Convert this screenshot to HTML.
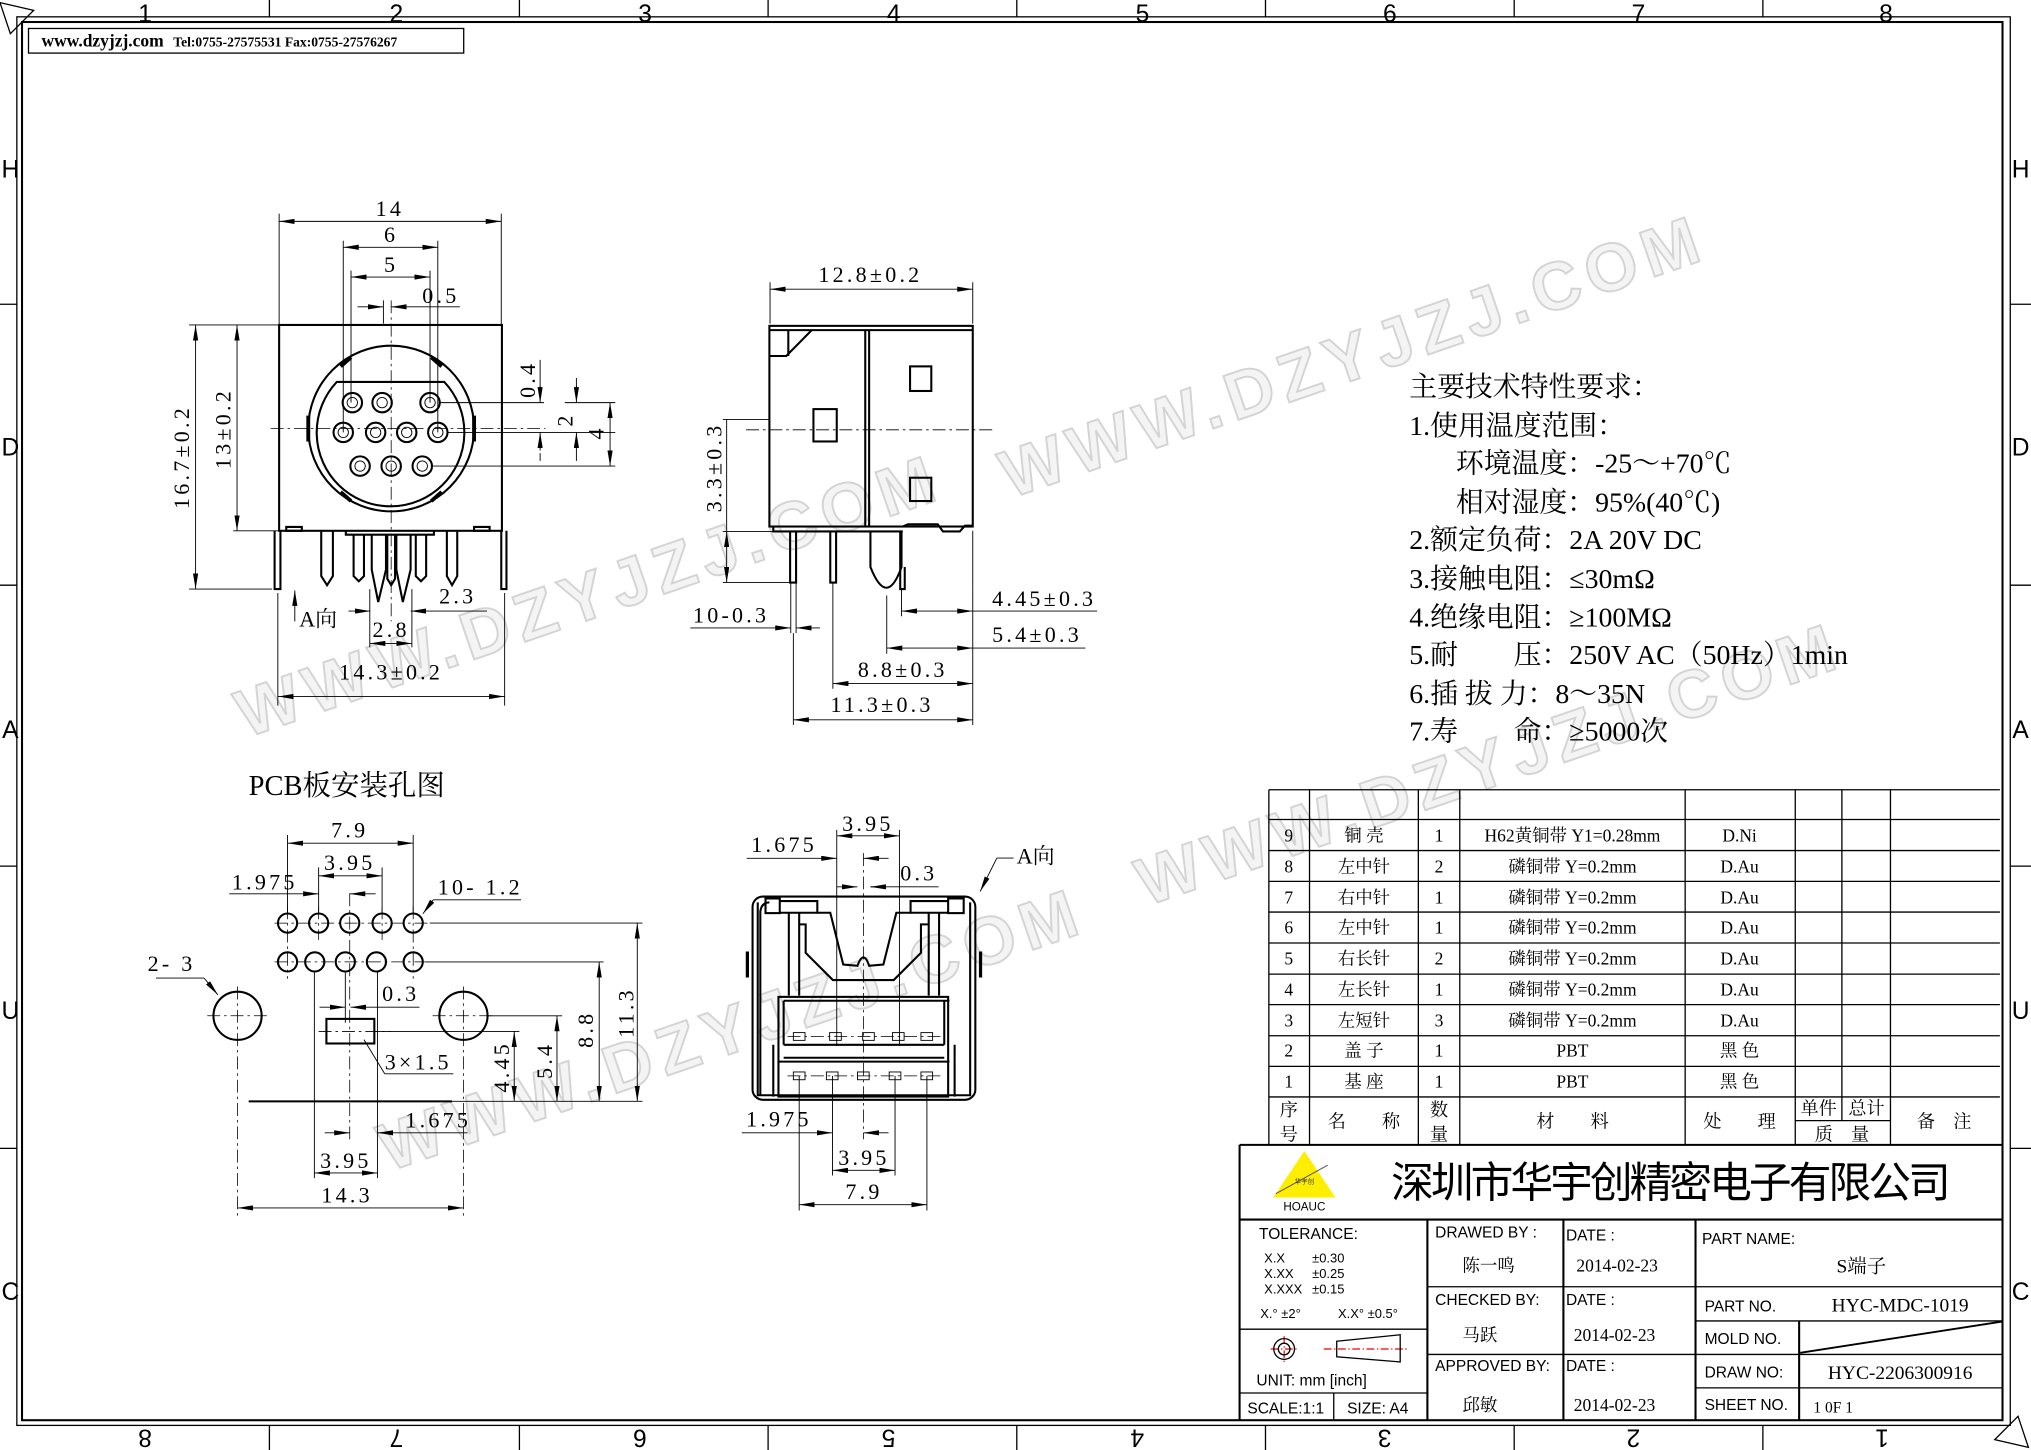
<!DOCTYPE html>
<html><head><meta charset="utf-8"><style>
html,body{margin:0;padding:0;background:#fff}
svg{display:block}
.l{stroke:#000;fill:none;stroke-width:1}
.k{stroke:#000;fill:none;stroke-width:1.6}
.th{stroke:#000;fill:none;stroke-width:0.7}
.c{stroke:#000;fill:none;stroke-width:0.6;stroke-dasharray:10 3 2 3}
.t{font-family:"Liberation Serif","Noto Serif CJK SC",serif;font-size:17px;letter-spacing:2.5px;fill:#000}
.s{font-family:"Liberation Serif","Noto Serif CJK SC",serif;font-size:13.5px;fill:#000}
.a{font-family:"Liberation Sans","Noto Sans CJK SC",sans-serif;fill:#000}
.w{font-family:"Liberation Sans",sans-serif;font-weight:bold;font-size:52px;letter-spacing:6px;fill:#f4f4f4;stroke:#d4d4d4;stroke-width:1.5}
</style></head><body>
<svg width="2031" height="1450" viewBox="0 0 1568 1120" preserveAspectRatio="none" xmlns="http://www.w3.org/2000/svg">
<defs>
<marker id="m" viewBox="0 0 12 4" refX="12" refY="2" markerWidth="12" markerHeight="4" markerUnits="userSpaceOnUse" orient="auto-start-reverse"><path d="M0,0L12,2L0,4z" fill="#000"/></marker>
</defs>
<rect width="1568" height="1120" fill="#fff"/>

<g>
<text class="w" transform="translate(190,570) rotate(-19)">WWW.DZYJZJ.COM</text>
<text class="w" transform="translate(780,385) rotate(-19)">WWW.DZYJZJ.COM</text>
<text class="w" transform="translate(885,700) rotate(-19)">WWW.DZYJZJ.COM</text>
<text class="w" transform="translate(300,905) rotate(-19)">WWW.DZYJZJ.COM</text>
</g>

<rect x="13" y="13" width="1539" height="1088" class="l"/>
<rect x="17" y="17" width="1529" height="1080" class="k"/>
<path d="M0,2L26,8L8,26Z" class="l"/>
<path d="M1566,1118L1540,1112L1558,1094Z" class="l"/>
<g class="l">
<path d="M208,0V13M401,0V13M593,0V13M785,0V13M977,0V13M1169,0V13M1361,0V13"/>
<path d="M208,1101V1120M401,1101V1120M593,1101V1120M785,1101V1120M977,1101V1120M1169,1101V1120M1361,1101V1120"/>
<path d="M0,235H13M0,452H13M0,669H13M0,887H13"/>
<path d="M1552,235H1568M1552,452H1568M1552,669H1568M1552,887H1568"/>
</g>
<g class="a" font-size="19" text-anchor="middle">
<text x="112" y="17">1</text><text x="306" y="17">2</text><text x="498" y="17">3</text><text x="690" y="17">4</text><text x="882" y="17">5</text><text x="1073" y="17">6</text><text x="1265" y="17">7</text><text x="1456" y="17">8</text>
<text transform="translate(112,1104) rotate(180)">8</text><text transform="translate(306,1104) rotate(180)">7</text><text transform="translate(494,1104) rotate(180)">6</text><text transform="translate(686,1104) rotate(180)">5</text><text transform="translate(878,1104) rotate(180)">4</text><text transform="translate(1069,1104) rotate(180)">3</text><text transform="translate(1261,1104) rotate(180)">2</text><text transform="translate(1453,1104) rotate(180)">1</text>
<text x="8" y="137">H</text><text x="8" y="352">D</text><text x="8" y="570">A</text><text x="8" y="787">U</text><text x="8" y="1004">C</text>
<text x="1560" y="137">H</text><text x="1560" y="352">D</text><text x="1560" y="570">A</text><text x="1560" y="787">U</text><text x="1560" y="1004">C</text>
</g>
<rect x="22" y="22" width="336" height="19" class="l"/>
<text x="32" y="36" font-family="Liberation Serif,serif" font-weight="bold" font-size="13.5">www.dzyjzj.com <tspan font-size="10.5" dx="4">Tel:0755-27575531  Fax:0755-27576267</tspan></text>

<!-- FRONT VIEW -->
<rect x="215.5" y="251" width="172" height="159" class="k"/>
<circle cx="302" cy="331" r="64" class="k"/>
<path d="M260,295H343A57,57 0 1 1 260,295Z" class="k"/>
<path d="M238,321v20M366,321v20" stroke="#000" stroke-width="3"/>
<path d="M263,283l8,-7M341,283l-8,-7M263,380l8,7M341,380l-8,7" stroke="#000" stroke-width="3"/>
<g class="k">
<circle cx="272" cy="311" r="7.5"/><circle cx="295" cy="311" r="7.5"/><circle cx="332" cy="311" r="7.5"/>
<circle cx="265" cy="334" r="7.5"/><circle cx="290" cy="334" r="7.5"/><circle cx="314" cy="334" r="7.5"/><circle cx="338" cy="334" r="7.5"/>
<circle cx="278" cy="360" r="7.5"/><circle cx="302" cy="360" r="7.5"/><circle cx="326" cy="360" r="7.5"/>
</g>
<g class="th">
<circle cx="272" cy="311" r="4"/><circle cx="295" cy="311" r="4"/><circle cx="332" cy="311" r="4"/>
<circle cx="265" cy="334" r="4"/><circle cx="290" cy="334" r="4"/><circle cx="314" cy="334" r="4"/><circle cx="338" cy="334" r="4"/>
<circle cx="278" cy="360" r="4"/><circle cx="302" cy="360" r="4"/><circle cx="326" cy="360" r="4"/>
</g>
<path d="M209,331H421M302,232V480" class="c"/>
<g class="k">
<path d="M212,410V455H216.5V410"/><path d="M387,410V455H391V410"/>
<path d="M221,407h12v3h-12zM366,407h12v3h-12z"/>
<path d="M248,410V445L252.5,452L257,445V410"/><path d="M345,410V445L349,452L353,445V410"/>
<path d="M267,410V413H335V410"/>
<path d="M273,413V445L277,449L281,445V413"/>
<path d="M287,413V440L292,465L298,440V413"/>
<path d="M299,413V447L302,452L305,447V413"/>
<path d="M306,413V440L311,465L317,440V413"/>
<path d="M321,413V445L325,449L329,445V413"/>
</g>
<g class="th">
<path d="M215.5,165V251M387,165V251"/>
<line x1="215.5" y1="171" x2="387" y2="171" marker-start="url(#m)" marker-end="url(#m)"/>
<path d="M265,186V334M338,186V334M271,209V311M332,209V311"/>
<line x1="265" y1="191" x2="338" y2="191" marker-start="url(#m)" marker-end="url(#m)"/>
<line x1="271" y1="214" x2="332" y2="214" marker-start="url(#m)" marker-end="url(#m)"/>
<path d="M296,232V250"/><line x1="276" y1="237" x2="296" y2="237" marker-end="url(#m)"/><line x1="355" y1="237" x2="302" y2="237" marker-end="url(#m)"/>
<path d="M340,311H420M346,334H475M334,360H475"/>
<path d="M417,278V302M417,350V356"/><line x1="417" y1="298" x2="417" y2="311" marker-end="url(#m)"/><line x1="417" y1="348" x2="417" y2="334" marker-end="url(#m)"/>
<path d="M445,292V300M445,348V356"/><line x1="445" y1="298" x2="445" y2="311" marker-end="url(#m)"/><line x1="445" y1="348" x2="445" y2="334" marker-end="url(#m)"/>
<path d="M436,311H475"/>
<line x1="471" y1="311" x2="471" y2="360" marker-start="url(#m)" marker-end="url(#m)"/>
<path d="M146,251H215M180,410H215M146,455H210"/>
<line x1="151" y1="251" x2="151" y2="455" marker-start="url(#m)" marker-end="url(#m)"/>
<line x1="183" y1="251" x2="183" y2="410" marker-start="url(#m)" marker-end="url(#m)"/>
<path d="M214.5,458V545M389.6,458V545"/>
<line x1="214.5" y1="538" x2="389.6" y2="538" marker-start="url(#m)" marker-end="url(#m)"/>
<path d="M285.5,455V500M318,455V500"/>
<line x1="285.5" y1="497" x2="318" y2="497" marker-start="url(#m)" marker-end="url(#m)"/>
<line x1="269" y1="472" x2="286" y2="472" marker-end="url(#m)"/><line x1="376" y1="472" x2="317" y2="472" marker-end="url(#m)"/>
<line x1="227.6" y1="480" x2="227.6" y2="456" marker-end="url(#m)"/>
</g>
<text class="t" x="301" y="167" text-anchor="middle">14</text>
<text class="t" x="302" y="187" text-anchor="middle">6</text>
<text class="t" x="302" y="210" text-anchor="middle">5</text>
<text class="t" x="326" y="234">0.5</text>
<text class="t" transform="translate(413,293) rotate(-90)" text-anchor="middle">0.4</text>
<text class="t" transform="translate(442,324) rotate(-90)" text-anchor="middle">2</text>
<text class="t" transform="translate(466,334) rotate(-90)" text-anchor="middle">4</text>
<text class="t" transform="translate(146,353) rotate(-90)" text-anchor="middle">16.7±0.2</text>
<text class="t" transform="translate(178,331) rotate(-90)" text-anchor="middle">13±0.2</text>
<text class="t" x="339" y="466">2.3</text>
<text class="t" x="302" y="492" text-anchor="middle">2.8</text>
<text class="t" x="231" y="484" style="letter-spacing:0">A向</text>
<text class="t" x="302" y="525" text-anchor="middle">14.3±0.2</text>

<!-- SIDE VIEW -->
<g class="k">
<rect x="594" y="251.7" width="157" height="155"/>
<path d="M594,255H668M668,255V406.6M671,255V406.6M594,255H751"/>
<path d="M594,275H607L626.7,255M608.6,255V275"/>
<rect x="628" y="316" width="18" height="25"/><rect x="702.6" y="283" width="16.4" height="19"/><rect x="702.6" y="369" width="16.4" height="18"/>
<path d="M597,406.6V410.5H697"/>
<path d="M697,406.6L701,405H724L728,410.5H741L745,406H751"/>
<path d="M610,410.5V450H614.6V410.5M641,410.5V450H645.5V410.5"/>
<path d="M672,410.5V438Q684.6,470 696,438V410.5"/>
<path d="M695,410.5V455H698.5V438"/>
</g>
<path d="M576,332H767" class="c"/>
<g class="th">
<path d="M594.5,218V250M751,218V250"/>
<line x1="594.5" y1="223.4" x2="751" y2="223.4" marker-start="url(#m)" marker-end="url(#m)"/>
<path d="M558,324H594M558,410.5H597M558,450H610"/>
<line x1="561" y1="410.5" x2="561" y2="450" marker-start="url(#m)" marker-end="url(#m)"/>
<path d="M561,324V410"/>
<path d="M610.5,450V489M614.6,450V489"/>
<line x1="533" y1="485" x2="610.5" y2="485" marker-end="url(#m)"/><line x1="633" y1="485" x2="614.6" y2="485" marker-end="url(#m)"/>
<path d="M696,455V476M684.6,460V505M643,450V532M612.5,489V560M751,410V560"/>
<line x1="696" y1="472" x2="751" y2="472" marker-start="url(#m)" marker-end="url(#m)"/><path d="M751,472H847"/>
<line x1="684.6" y1="500.6" x2="751" y2="500.6" marker-start="url(#m)" marker-end="url(#m)"/><path d="M751,500.6H838"/>
<line x1="643" y1="528" x2="751" y2="528" marker-start="url(#m)" marker-end="url(#m)"/>
<line x1="612.5" y1="556" x2="751" y2="556" marker-start="url(#m)" marker-end="url(#m)"/>
</g>
<text class="t" x="672" y="218" text-anchor="middle">12.8±0.2</text>
<text class="t" transform="translate(557,361) rotate(-90)" text-anchor="middle">3.3±0.3</text>
<text class="t" x="535" y="481">10-0.3</text>
<text class="t" x="766" y="468">4.45±0.3</text>
<text class="t" x="766" y="496">5.4±0.3</text>
<text class="t" x="697" y="523" text-anchor="middle">8.8±0.3</text>
<text class="t" x="681" y="550" text-anchor="middle">11.3±0.3</text>

<!-- BOTTOM VIEW -->
<g class="k">
<rect x="581" y="692.5" width="172" height="157" rx="8"/>
<path d="M585,697V846H749V697M587,846V704Q588,697 594,697"/>
<rect x="591" y="694" width="11" height="11.3"/><rect x="732" y="694" width="12" height="11.3"/>
<path d="M602,696H631V705H602M732,696H703V705H732"/>
<path d="M609,705V769M617,705V769M725,705V769M717,705V769"/>
<path d="M631,705H641L651,745L662,746Q666.6,733 671,746L682,745L692,705H703"/>
<path d="M617,714H622V736L643,757H690L711,736V714H717"/>
<rect x="601" y="770" width="131" height="77"/>
<path d="M605,773H733M605,773V807M729,773V807M605,807H729M605,817H729M597,807V847M737,807V847M601,820H733"/>
<path d="M577,735v20M757,735v20" stroke="#000" stroke-width="2.5"/>
</g>
<g class="th">
<rect x="612.5" y="797.6" width="9" height="6"/><rect x="640.5" y="797.6" width="9" height="6"/><rect x="666" y="797.6" width="9" height="6"/><rect x="689" y="797.6" width="9" height="6"/><rect x="711" y="797.6" width="9" height="6"/>
<rect x="612.5" y="828" width="9" height="6"/><rect x="638" y="828" width="9" height="6"/><rect x="662" y="828" width="9" height="6"/><rect x="686.5" y="828" width="9" height="6"/><rect x="711" y="828" width="9" height="6"/>
<path d="M646,641V808M694.4,641V808M617,831V935M642.7,831V908M691,831V908M715.6,831V935"/>
<line x1="646" y1="645.6" x2="694.4" y2="645.6" marker-start="url(#m)" marker-end="url(#m)"/>
<line x1="576.5" y1="663" x2="646" y2="663" marker-end="url(#m)"/><line x1="686" y1="663" x2="666.6" y2="663" marker-end="url(#m)"/>
<line x1="672" y1="685" x2="724.6" y2="685"/>
<line x1="646" y1="685" x2="662" y2="685" marker-end="url(#m)"/><line x1="684" y1="685" x2="672" y2="685" marker-end="url(#m)"/>
<line x1="572.7" y1="875" x2="642.7" y2="875" marker-end="url(#m)"/><line x1="686" y1="875" x2="666.6" y2="875" marker-end="url(#m)"/>
<line x1="642.7" y1="904" x2="691" y2="904" marker-start="url(#m)" marker-end="url(#m)"/>
<line x1="617" y1="930.5" x2="715.6" y2="930.5" marker-start="url(#m)" marker-end="url(#m)"/>
<path d="M782.5,662.8H769.6"/><line x1="769.6" y1="662.8" x2="756.7" y2="688.6" marker-end="url(#m)"/>
</g>
<path d="M666.6,659V880" class="c"/>
<path d="M608,800.6H726M608,831H726" class="c"/>
<text class="t" x="670" y="642" text-anchor="middle">3.95</text>
<text class="t" x="580" y="658">1.675</text>
<text class="t" x="695" y="680">0.3</text>
<text class="t" x="785" y="667" style="letter-spacing:0">A向</text>
<text class="t" x="576" y="870">1.975</text>
<text class="t" x="667" y="900" text-anchor="middle">3.95</text>
<text class="t" x="667" y="926" text-anchor="middle">7.9</text>

<!-- PCB -->
<text x="192" y="614" font-family="Liberation Serif,Noto Serif CJK SC,serif" font-size="22">PCB板安装孔图</text>
<g class="k">
<circle cx="222" cy="713" r="7.4"/><circle cx="246" cy="713" r="7.4"/><circle cx="270" cy="713" r="7.4"/><circle cx="295" cy="713" r="7.4"/><circle cx="319" cy="713" r="7.4"/>
<circle cx="222" cy="743" r="7.4"/><circle cx="243" cy="743" r="7.4"/><circle cx="266.6" cy="743" r="7.4"/><circle cx="290.6" cy="743" r="7.4"/><circle cx="319" cy="743" r="7.4"/>
<circle cx="183.4" cy="784.6" r="18.6"/><circle cx="357.8" cy="784.6" r="18.6"/>
<rect x="252" y="787" width="37" height="19"/>
<path d="M192,850.7H349"/>
</g>
<path d="M212,713H330M212,743H330M160,784.6H208M334,784.6H383M246,796.7H302M183.4,762V940M357.8,762V940M222,700V756M246,700V726M270,690V880M295,700V726M319,700V756" class="c"/>
<g class="th">
<path d="M349,850.7H496"/>
<path d="M222,645V705M319,645V705M246,670V705M295,670V705"/>
<line x1="222" y1="651.3" x2="319" y2="651.3" marker-start="url(#m)" marker-end="url(#m)"/>
<line x1="246" y1="676.5" x2="295" y2="676.5" marker-start="url(#m)" marker-end="url(#m)"/>
<line x1="177" y1="690.4" x2="246" y2="690.4" marker-end="url(#m)"/><line x1="290" y1="690.4" x2="270" y2="690.4" marker-end="url(#m)"/>
<path d="M334.5,695H402.3"/><line x1="334.5" y1="695" x2="326.5" y2="705.8" marker-end="url(#m)"/>
<path d="M120.4,755.5H157.6"/><line x1="157.6" y1="755.5" x2="168.2" y2="768.4" marker-end="url(#m)"/>
<path d="M266.6,750V790"/>
<line x1="246.7" y1="778" x2="266.6" y2="778" marker-end="url(#m)"/><line x1="323.8" y1="778" x2="270.6" y2="778" marker-end="url(#m)"/>
<path d="M297,829.4H350M297,829.4L281,803"/>
<path d="M329,743H466M331.8,713H496M377,784.6H434M289,796.7H401"/>
<line x1="397" y1="796.7" x2="397" y2="850.7" marker-start="url(#m)" marker-end="url(#m)"/>
<line x1="430" y1="784.6" x2="430" y2="850.7" marker-start="url(#m)" marker-end="url(#m)"/>
<line x1="462.6" y1="743" x2="462.6" y2="850.7" marker-start="url(#m)" marker-end="url(#m)"/>
<line x1="492" y1="713" x2="492" y2="850.7" marker-start="url(#m)" marker-end="url(#m)"/>
<path d="M242.7,750V910M291.4,750V910"/>
<line x1="250.7" y1="875" x2="270" y2="875" marker-end="url(#m)"/><line x1="361" y1="875" x2="291.4" y2="875" marker-end="url(#m)"/>
<line x1="242.7" y1="906" x2="291.4" y2="906" marker-start="url(#m)" marker-end="url(#m)"/>
<line x1="183.4" y1="933" x2="357.8" y2="933" marker-start="url(#m)" marker-end="url(#m)"/>
</g>
<text class="t" x="270" y="647" text-anchor="middle">7.9</text>
<text class="t" x="270" y="672" text-anchor="middle">3.95</text>
<text class="t" x="179" y="687">1.975</text>
<text class="t" x="338" y="691">10-  1.2</text>
<text class="t" x="114" y="750">2-  3</text>
<text class="t" x="295" y="773">0.3</text>
<text class="t" x="297" y="826">3×1.5</text>
<text class="t" transform="translate(393,824) rotate(-90)" text-anchor="middle">4.45</text>
<text class="t" transform="translate(426,819) rotate(-90)" text-anchor="middle">5.4</text>
<text class="t" transform="translate(458,795) rotate(-90)" text-anchor="middle">8.8</text>
<text class="t" transform="translate(489,782) rotate(-90)" text-anchor="middle">11.3</text>
<text class="t" x="313" y="871">1.675</text>
<text class="t" x="267" y="902" text-anchor="middle">3.95</text>
<text class="t" x="268" y="929" text-anchor="middle">14.3</text>

<!-- SPEC TEXT -->
<g font-family="Liberation Serif,Noto Serif CJK SC,serif" font-size="21.5">
<text x="1088" y="306">主要技术特性要求：</text>
<text x="1088" y="336">1.使用温度范围：</text>
<text x="1124" y="365">环境温度：-25～+70℃</text>
<text x="1124" y="395">相对湿度：95%(40℃)</text>
<text x="1088" y="424">2.额定负荷：2A 20V DC</text>
<text x="1088" y="454">3.接触电阻：≤30mΩ</text>
<text x="1088" y="484">4.绝缘电阻：≥100MΩ</text>
<text x="1088" y="513">5.耐　　压：250V AC（50Hz）1min</text>
<text x="1088" y="543">6.插 拔 力：8～35N</text>
<text x="1088" y="572">7.寿　　命：≥5000次</text>
</g>

<!-- PARTS TABLE -->
<g class="l">
<path d="M979.6,610H1544M979.6,633H1544M979.6,657H1544M979.6,680.8H1544M979.6,704.5H1544M979.6,728.4H1544M979.6,752.4H1544M979.6,776H1544M979.6,800H1544M979.6,823.7H1544M979.6,847.3H1544M1386,865.6H1459.5"/>
<path d="M979.6,610V885M1011,610V885M1095,610V885M1127,610V885M1301,610V885M1386,610V885M1422,610V865.6M1459.5,610V885"/>
</g>
<g class="s" text-anchor="middle">
<text x="995" y="650">9</text><text x="1053" y="650">铜 壳</text><text x="1111" y="650">1</text><text x="1214" y="650">H62黄铜带 Y1=0.28mm</text><text x="1343" y="650">D.Ni</text>
<text x="995" y="674">8</text><text x="1053" y="674">左中针</text><text x="1111" y="674">2</text><text x="1214" y="674">磷铜带 Y=0.2mm</text><text x="1343" y="674">D.Au</text>
<text x="995" y="698">7</text><text x="1053" y="698">右中针</text><text x="1111" y="698">1</text><text x="1214" y="698">磷铜带 Y=0.2mm</text><text x="1343" y="698">D.Au</text>
<text x="995" y="721">6</text><text x="1053" y="721">左中针</text><text x="1111" y="721">1</text><text x="1214" y="721">磷铜带 Y=0.2mm</text><text x="1343" y="721">D.Au</text>
<text x="995" y="745">5</text><text x="1053" y="745">右长针</text><text x="1111" y="745">2</text><text x="1214" y="745">磷铜带 Y=0.2mm</text><text x="1343" y="745">D.Au</text>
<text x="995" y="769">4</text><text x="1053" y="769">左长针</text><text x="1111" y="769">1</text><text x="1214" y="769">磷铜带 Y=0.2mm</text><text x="1343" y="769">D.Au</text>
<text x="995" y="793">3</text><text x="1053" y="793">左短针</text><text x="1111" y="793">3</text><text x="1214" y="793">磷铜带 Y=0.2mm</text><text x="1343" y="793">D.Au</text>
<text x="995" y="816">2</text><text x="1053" y="816">盖  子</text><text x="1111" y="816">1</text><text x="1214" y="816">PBT</text><text x="1343" y="816">黑 色</text>
<text x="995" y="840">1</text><text x="1053" y="840">基  座</text><text x="1111" y="840">1</text><text x="1214" y="840">PBT</text><text x="1343" y="840">黑 色</text>
<g font-size="14"><text x="995" y="862">序</text><text x="995" y="881">号</text><text x="1053" y="871">名　　称</text><text x="1111" y="862">数</text><text x="1111" y="881">量</text><text x="1214" y="871">材　　料</text><text x="1343" y="871">处　　理</text><text x="1404" y="861">单件</text><text x="1441" y="861">总计</text><text x="1422" y="881">质　量</text><text x="1501" y="871">备　注</text></g>
</g>

<!-- TITLE BLOCK -->
<g class="k">
<path d="M957,884.3H1545.7M957,884.3V1097M957,942H1545.7M1102,942V1097M1207,942V1097M1309,942V1097M1389,1020V1097"/>
</g>
<g class="l">
<path d="M1102,993.9H1309M1309,993.9H1545.7M1102,1046.2H1545.7M1309,1020.3H1545.7M1309,1072H1545.7M957,1026.7H1102M957,1076H1102M1029.7,1076V1097"/>
<path d="M1389.8,1044.9L1545.7,1020.8" stroke-width="1.5"/>
</g>
<path d="M1007,889L983,925H1031Z" fill="#ffee00"/>
<path d="M985,922L1025,900" stroke="#555" stroke-width="0.8" fill="none"/>
<text x="1007" y="914" font-size="5" font-family="Noto Sans CJK SC,sans-serif" fill="#333" text-anchor="middle">华宇创</text>
<text x="1007" y="935" class="a" font-size="9" text-anchor="middle">HOAUC</text>
<text x="1290" y="925" font-family="Liberation Sans,Noto Sans CJK SC,sans-serif" font-size="33" text-anchor="middle" textLength="432">深圳市华宇创精密电子有限公司</text>
<g class="a" font-size="12">
<text x="972" y="957">TOLERANCE:</text>
<text x="976" y="975" font-size="10">X.X</text><text x="1013" y="975" font-size="10">±0.30</text>
<text x="976" y="987" font-size="10">X.XX</text><text x="1013" y="987" font-size="10">±0.25</text>
<text x="976" y="999" font-size="10">X.XXX</text><text x="1013" y="999" font-size="10">±0.15</text>
<text x="973" y="1018" font-size="10">X.° ±2°</text><text x="1033" y="1018" font-size="10">X.X° ±0.5°</text>
<text x="970" y="1070">UNIT:  mm  [inch]</text>
<text x="963" y="1092">SCALE:1:1</text><text x="1040" y="1092">SIZE:  A4</text>
<text x="1108" y="956">DRAWED  BY :</text><text x="1209" y="958">DATE  :</text>
<text x="1108" y="1008">CHECKED  BY:</text><text x="1209" y="1008">DATE  :</text>
<text x="1108" y="1059">APPROVED  BY:</text><text x="1209" y="1059">DATE  :</text>
<text x="1314" y="961">PART  NAME:</text>
<text x="1316" y="1013">PART  NO.</text>
<text x="1316" y="1038">MOLD  NO.</text>
<text x="1316" y="1064">DRAW  NO:</text>
<text x="1316" y="1089">SHEET  NO.</text>
</g>
<g class="s" font-size="13.5">
<text x="1129" y="982">陈一鸣</text><text x="1217" y="982">2014-02-23</text>
<text x="1129" y="1036">马跃</text><text x="1215" y="1036">2014-02-23</text>
<text x="1129" y="1090">邱敏</text><text x="1215" y="1090">2014-02-23</text>
<text x="1437" y="983" text-anchor="middle" font-size="15">S端子</text>
<text x="1467" y="1013" text-anchor="middle" font-size="15">HYC-MDC-1019</text>
<text x="1467" y="1065" text-anchor="middle" font-size="15">HYC-2206300916</text>
<text x="1400" y="1091" font-size="12">1 0F 1</text>
</g>
<g stroke="#e00" stroke-width="0.9" fill="none">
<path d="M981,1042H1002M991.4,1032V1052M1022,1042H1086" stroke-dasharray="6 2 1 2"/>
</g>
<circle cx="991.4" cy="1042" r="8" class="l"/><circle cx="991.4" cy="1042" r="4.5" class="l"/>
<path d="M1032,1036L1081,1031V1052L1032,1048Z" class="l"/>
</svg>
</body></html>
